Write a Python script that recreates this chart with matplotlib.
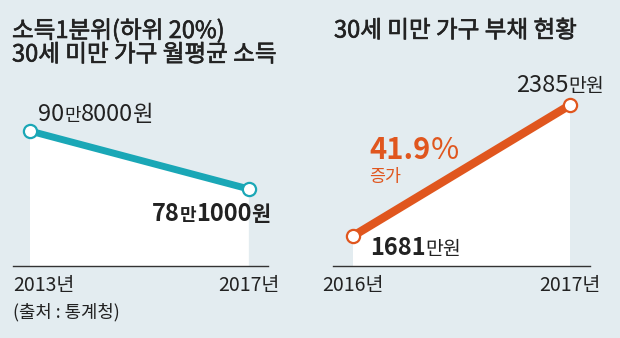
import matplotlib
matplotlib.use("Agg")
import matplotlib.pyplot as plt
import matplotlib.patheffects as pe
from matplotlib.transforms import IdentityTransform, blended_transform_factory

plt.rcParams['font.family'] = ['Noto Sans CJK KR', 'DejaVu Sans']

# ---- data ----
income_years = [2013, 2017]
income_values = [90.8, 78.1]          # 만원
income_labels = [("90", "만", "8000", "원"), ("78", "만", "1000", "원")]
income_ticks = ["2013년", "2017년"]

debt_years = [2016, 2017]
debt_values = [1681, 2385]            # 만원
debt_labels = [("1681", "만원"), ("2385", "만원")]
debt_ticks = ["2016년", "2017년"]
debt_growth = "41.9"

title_left = "소득1분위(하위 20%)\n30세 미만 가구 월평균 소득"
title_right = "30세 미만 가구 부채 현황"
source = "(출처 : 통계청)"

BG = "#e3ecf0"
TEAL = "#1aa7b6"
ORANGE = "#e0561e"
TXT = "#222222"

W, H = 620, 338
DPI = 100
fig = plt.figure(figsize=(W / DPI, H / DPI), dpi=DPI, facecolor=BG)

def px_axes(x0, x1, ytop, ybot):
    return fig.add_axes([x0 / W, 1 - ybot / H, (x1 - x0) / W, (ybot - ytop) / H])

axL = px_axes(13, 268, 60, 266)
axR = px_axes(333, 590, 60, 266)

for ax in (axL, axR):
    ax.set_facecolor("none")
    for s in ("top", "right", "left"):
        ax.spines[s].set_visible(False)
    ax.spines["bottom"].set_color("#333333")
    ax.spines["bottom"].set_linewidth(1.0)
    ax.set_xticks([])
    ax.set_yticks([])

axL.set_xlim(2012.69, 2017.35)
axL.set_ylim(61.24, 106.35)
axR.set_xlim(2015.908, 2017.092)
axR.set_ylim(1520, 2627)

# white fill + lines
axL.fill_between(income_years, income_values, 0, color="white", zorder=1, lw=0)
axL.plot(income_years, income_values, color=TEAL, lw=5, zorder=2, solid_capstyle="butt")
axL.plot(income_years, income_values, 'o', ms=9.5, mfc="white", mec=TEAL, mew=1.6, zorder=3)

axR.fill_between(debt_years, debt_values, 0, color="white", zorder=1, lw=0)
axR.plot(debt_years, debt_values, color=ORANGE, lw=6, zorder=2, solid_capstyle="butt")
axR.plot(debt_years, debt_values, 'o', ms=9.5, mfc="white", mec=ORANGE, mew=1.6, zorder=3)

r = fig.canvas.get_renderer()

def rich(x, y, parts, ha="left"):
    """x,y in display px (y from bottom), baseline-aligned pieces."""
    widths = []
    for txt, size, weight, color in parts:
        t = fig.text(0, 0, txt, fontsize=size, fontweight=weight)
        widths.append(t.get_window_extent(r).width)
        t.remove()
    total = sum(widths)
    if ha == "right":
        x -= total
    elif ha == "center":
        x -= total / 2
    for (txt, size, weight, color), w in zip(parts, widths):
        fig.text(x, y, txt, fontsize=size, fontweight=weight, color=color,
                 ha="left", va="baseline", transform=IdentityTransform())
        x += w

def top_px(y):
    return H - y

# titles (slightly emboldened)
heavy = [pe.withStroke(linewidth=0.45, foreground=TXT)]
fig.text(12 / W, 1 - 31 / H, title_left.split("\n")[0], fontsize=17,
         color=TXT, ha="left", va="center", path_effects=heavy)
fig.text(12 / W, 1 - 55 / H, title_left.split("\n")[1], fontsize=17,
         color=TXT, ha="left", va="center", path_effects=heavy)
fig.text(334 / W, 1 - 31 / H, title_right, fontsize=17,
         color=TXT, ha="left", va="center", path_effects=heavy)

# value labels (left)
p0 = axL.transData.transform((income_years[0], income_values[0]))
a, b, c, d = income_labels[0]
rich(p0[0] + 8, p0[1] + 10, [(a, 17, "normal", TXT), (b, 13, "normal", TXT),
                              (c, 17, "normal", TXT), (d, 16, "normal", TXT)])
p1 = axL.transData.transform((income_years[1], income_values[1]))
a, b, c, d = income_labels[1]
rich(p1[0] + 22, p1[1] - 32, [(a, 17, "bold", TXT), (b, 13, "bold", TXT),
                               (c, 17, "bold", TXT), (d, 15, "bold", TXT)], ha="right")

# value labels (right)
q0 = axR.transData.transform((debt_years[0], debt_values[0]))
a, b = debt_labels[0]
rich(q0[0] + 17, q0[1] - 19, [(a, 17, "bold", TXT), (b, 14, "normal", TXT)])
q1 = axR.transData.transform((debt_years[1], debt_values[1]))
a, b = debt_labels[1]
rich(q1[0] + 34, q1[1] + 13, [(a, 17, "normal", TXT), (b, 14, "normal", TXT)], ha="right")

# growth annotation
rich(369, top_px(159), [(debt_growth, 21, "bold", ORANGE), ("%", 22, "light", ORANGE)])
fig.text(369 / W, 1 - 177 / H, "증가", fontsize=12.5, color=ORANGE, ha="left", va="center")

# tick labels
trL = blended_transform_factory(axL.transData, fig.transFigure)
trR = blended_transform_factory(axR.transData, fig.transFigure)
yl = 1 - 285 / H
axL.text(axL.get_xlim()[0], yl, income_ticks[0], transform=trL, fontsize=14, color=TXT,
         ha="left", va="center")
axL.text(income_years[1], yl, income_ticks[1], transform=trL, fontsize=14, color=TXT,
         ha="center", va="center")
for yr, lab in zip(debt_years, debt_ticks):
    axR.text(yr, yl, lab, transform=trR, fontsize=14, color=TXT, ha="center", va="center")

fig.text(13 / W, 1 - 312 / H, source, fontsize=12.8, color=TXT, ha="left", va="center")

fig.savefig("out.png", dpi=DPI, facecolor=BG)
